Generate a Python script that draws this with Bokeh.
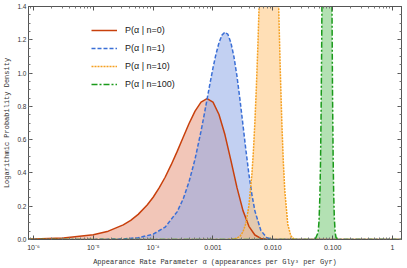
import numpy as np
from bokeh.plotting import figure
from bokeh.models import (Range1d, FixedTicker, LogAxis, LinearAxis, Legend, LegendItem)
from bokeh.embed import file_html
from bokeh.resources import INLINE

# ---- data (log10 of alpha, density) ----
n0_logx = [-6.1, -6.0, -5.5, -5.0, -4.75, -4.5, -4.375, -4.25, -4.1, -4.0, -3.9, -3.8, -3.7, -3.6,
           -3.5, -3.4, -3.3, -3.2, -3.1, -3.0, -2.9, -2.8, -2.7, -2.6, -2.5, -2.4, -2.3, -2.2,
           -2.1, -2.0, -1.8, 0.2]
n0_y = [0.0023, 0.0029, 0.0091, 0.028, 0.050, 0.088, 0.115, 0.151, 0.207, 0.254, 0.310, 0.374,
        0.448, 0.528, 0.613, 0.697, 0.771, 0.825, 0.847, 0.825, 0.751, 0.629, 0.474, 0.313,
        0.175, 0.079, 0.027, 0.0068, 0.0011, 0.0001, 0.0, 0.0]

n1_logx = [-6.1, -5.0, -4.5, -4.25, -4.0, -3.8, -3.6, -3.5, -3.4, -3.3, -3.2, -3.15, -3.1, -3.05,
           -3.0, -2.95, -2.9, -2.85, -2.8, -2.75, -2.7, -2.65, -2.6, -2.55, -2.5, -2.45, -2.4,
           -2.35, -2.3, -2.2, -2.1, -2.0, -1.9, 0.2]
n1_y = [0.0, 0.0004, 0.0035, 0.0106, 0.0318, 0.0741, 0.166, 0.242, 0.347, 0.483, 0.651, 0.744,
        0.841, 0.938, 1.031, 1.114, 1.182, 1.228, 1.246, 1.232, 1.182, 1.098, 0.983, 0.843,
        0.691, 0.537, 0.393, 0.270, 0.172, 0.054, 0.011, 0.0013, 0.0001, 0.0]

n10_logx = [-6.1, -2.8, -2.7, -2.6, -2.55, -2.5, -2.45, -2.4, -2.35, -2.325, -2.3, -2.275, -2.25,
            -2.2, -2.15, -2.1, -2.05, -2.0, -1.95, -1.92, -1.9, -1.875, -1.85, -1.825, -1.8,
            -1.75, -1.7, -1.65, -1.6, -1.5, 0.2]
n10_y = [0.0, 0.0002, 0.0012, 0.008, 0.019, 0.045, 0.098, 0.203, 0.392, 0.530, 0.705, 0.917,
         1.164, 1.752, 2.37, 2.858, 3.022, 2.754, 2.125, 1.667, 1.361, 1.010, 0.708, 0.469,
         0.291, 0.092, 0.022, 0.0037, 0.0004, 0.0, 0.0]

n100_logx = [-6.1, -1.343, -1.293, -1.243, -1.228, -1.213, -1.203, -1.193, -1.183, -1.173, -1.143,
             -1.093, -1.043, -1.013, -1.003, -0.993, -0.983, -0.973, -0.958, -0.943, -0.893, 0.2]
n100_y = [0.0, 0.0, 0.0009, 0.042, 0.112, 0.271, 0.468, 0.768, 1.21, 1.83, 4.81, 9.21, 4.60,
          1.48, 0.90, 0.51, 0.27, 0.133, 0.040, 0.0105, 0.0, 0.0]

labels = ["P(α | n=0)", "P(α | n=1)", "P(α | n=10)", "P(α | n=100)"]
line_colors = ["#C8400C", "#3B6FD6", "#F5A020", "#1B9A1B"]
fill_colors = ["#E8987E", "#8FA9E8", "#FFC47A", "#74C874"]
dashes = ["solid", "4 2", "2 1", "6 2 2 2"]

x_ticks = [1e-6, 1e-5, 1e-4, 1e-3, 1e-2, 1e-1, 1.0]
x_tick_labels = ["10⁻⁶", "10⁻⁵", "10⁻⁴", "0.001", "0.010", "0.100", "1"]
y_ticks = [0.0, 0.2, 0.4, 0.6, 0.8, 1.0, 1.2, 1.4]
y_tick_labels = ["0.0", "0.2", "0.4", "0.6", "0.8", "1.0", "1.2", "1.4"]

series = [(n0_logx, n0_y), (n1_logx, n1_y), (n10_logx, n10_y), (n100_logx, n100_y)]

p = figure(width=405, height=268, x_axis_type="log", output_backend="svg",
           toolbar_location=None, x_axis_location=None, y_axis_location=None,
           x_range=Range1d(10 ** -6.083, 10 ** 0.15), y_range=Range1d(0, 1.4),
           min_border_left=0, min_border_right=4, min_border_top=6, min_border_bottom=0)
p.grid.visible = False
p.outline_line_color = "#555555"
p.background_fill_color = "white"
p.border_fill_color = "white"

minor_x = [m * 10.0 ** k for k in range(-7, 1) for m in range(2, 10)]
minor_y = [i * 0.05 for i in range(0, 29)]

def style_axis(ax, show):
    ax.axis_line_color = "#555555"
    ax.major_tick_line_color = "#555555"
    ax.minor_tick_line_color = "#777777"
    ax.major_tick_in = 4
    ax.major_tick_out = 0
    ax.minor_tick_in = 2
    ax.minor_tick_out = 0
    ax.major_label_text_font = "Liberation Sans"
    ax.major_label_text_color = "#333333"
    ax.major_label_standoff = 3
    ax.major_label_text_font_size = "6.5px"
    if not show:
        ax.major_label_text_alpha = 0
        ax.major_label_text_font_size = "1px"
        ax.major_label_standoff = 0
    ax.axis_label_text_font = "Liberation Mono"
    ax.axis_label_text_font_size = "7px"
    ax.axis_label_text_font_style = "normal"
    ax.axis_label_text_color = "#333333"
    ax.axis_label_standoff = 4

xb = LogAxis(ticker=FixedTicker(ticks=x_ticks, minor_ticks=minor_x),
             major_label_overrides=dict(zip(x_ticks, x_tick_labels)),
             axis_label="Appearance Rate Parameter α (appearances per Gly³ per Gyr)")
style_axis(xb, True)
xb.major_label_text_font_size = "7px"
xb.major_label_standoff = 4
xb.axis_label_standoff = 4
xa = LogAxis(ticker=FixedTicker(ticks=x_ticks, minor_ticks=minor_x))
style_axis(xa, False)
yl = LinearAxis(ticker=FixedTicker(ticks=y_ticks, minor_ticks=minor_y),
                major_label_overrides=dict(zip(y_ticks, y_tick_labels)),
                axis_label="Logarithmic Probability Density")
style_axis(yl, True)
yl.axis_label_standoff = 3
yl.major_label_standoff = 2
yr = LinearAxis(ticker=FixedTicker(ticks=y_ticks, minor_ticks=minor_y))
style_axis(yr, False)

p.add_layout(xb, "below")
p.add_layout(xa, "above")
p.add_layout(yl, "left")
p.add_layout(yr, "right")

for (lx, yv), fc in zip(series, fill_colors):
    xs = 10.0 ** np.array(lx)
    p.varea(x=xs, y1=np.zeros(len(xs)), y2=np.array(yv), fill_color=fc, fill_alpha=0.55)

items = []
for (lx, yv), lc, ds, lab in zip(series, line_colors, dashes, labels):
    xs = 10.0 ** np.array(lx)
    r = p.line(xs, np.array(yv), line_color=lc, line_width=1.5, line_dash=ds)
    items.append(LegendItem(label=lab, renderers=[r]))

legend = Legend(items=items, location=(63, 148), orientation="vertical",
                background_fill_alpha=0, border_line_alpha=0,
                label_text_font="Liberation Sans", label_text_font_size="9px",
                label_text_color="#222222", glyph_width=26, glyph_height=14,
                label_height=14, spacing=4, padding=0, margin=0, label_standoff=8)
p.add_layout(legend, "center")

open("out.html", "w").write(file_html(p, INLINE))
